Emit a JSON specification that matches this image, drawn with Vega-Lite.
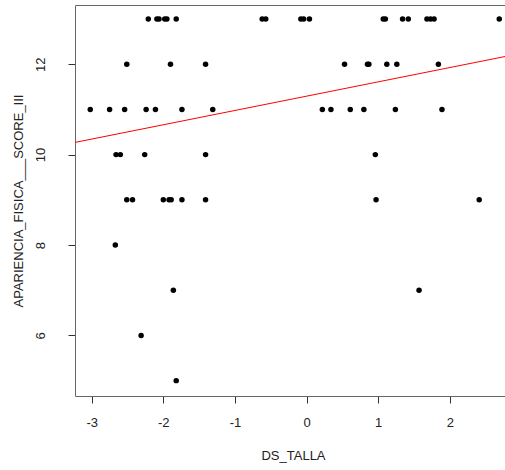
{
  "$schema": "https://vega.github.io/schema/vega-lite/v6.json",
  "width": 430,
  "height": 391,
  "autosize": {"type": "none"},
  "padding": {"left": 75, "top": 5, "right": 0, "bottom": 74},
  "background": "white",
  "config": {
    "view": {"stroke": null},
    "font": "Liberation Sans",
    "axis": {
      "grid": false,
      "domainColor": "#666666",
      "domainWidth": 1,
      "tickColor": "#333333",
      "tickSize": 7,
      "labelFont": "Liberation Sans",
      "labelFontSize": 13,
      "labelColor": "#222222",
      "titleFont": "Liberation Sans",
      "titleFontSize": 13,
      "titleFontWeight": "normal",
      "titleColor": "#222222"
    }
  },
  "layer": [
    {
      "data": {
        "values": [
          {"x": -2.21, "y": 13}, {"x": -2.09, "y": 13}, {"x": -2.06, "y": 13}, {"x": -1.98, "y": 13},
          {"x": -1.95, "y": 13}, {"x": -1.82, "y": 13}, {"x": -0.62, "y": 13}, {"x": -0.57, "y": 13},
          {"x": -0.08, "y": 13}, {"x": -0.04, "y": 13}, {"x": 0.04, "y": 13}, {"x": 1.07, "y": 13},
          {"x": 1.1, "y": 13}, {"x": 1.34, "y": 13}, {"x": 1.42, "y": 13}, {"x": 1.68, "y": 13},
          {"x": 1.73, "y": 13}, {"x": 1.78, "y": 13}, {"x": 2.69, "y": 13},
          {"x": -2.51, "y": 12}, {"x": -1.9, "y": 12}, {"x": -1.41, "y": 12}, {"x": 0.53, "y": 12},
          {"x": 0.85, "y": 12}, {"x": 0.87, "y": 12}, {"x": 1.12, "y": 12}, {"x": 1.26, "y": 12},
          {"x": 1.84, "y": 12},
          {"x": -3.02, "y": 11}, {"x": -2.75, "y": 11}, {"x": -2.54, "y": 11}, {"x": -2.24, "y": 11},
          {"x": -2.11, "y": 11}, {"x": -1.74, "y": 11}, {"x": -1.31, "y": 11}, {"x": 0.22, "y": 11},
          {"x": 0.34, "y": 11}, {"x": 0.61, "y": 11}, {"x": 0.8, "y": 11}, {"x": 1.24, "y": 11},
          {"x": 1.89, "y": 11},
          {"x": -2.66, "y": 10}, {"x": -2.6, "y": 10}, {"x": -2.26, "y": 10}, {"x": -1.41, "y": 10},
          {"x": 0.96, "y": 10},
          {"x": -2.51, "y": 9}, {"x": -2.43, "y": 9}, {"x": -2.0, "y": 9}, {"x": -1.92, "y": 9},
          {"x": -1.89, "y": 9}, {"x": -1.74, "y": 9}, {"x": -1.41, "y": 9}, {"x": 0.97, "y": 9},
          {"x": 2.41, "y": 9},
          {"x": -2.67, "y": 8},
          {"x": -1.86, "y": 7}, {"x": 1.57, "y": 7},
          {"x": -2.31, "y": 6},
          {"x": -1.82, "y": 5}
        ]
      },
      "mark": {"type": "circle", "color": "black", "size": 30, "opacity": 1},
      "encoding": {
        "x": {
          "field": "x",
          "type": "quantitative",
          "scale": {"domain": [-3.233, 2.77], "nice": false, "zero": false},
          "axis": {
            "orient": "bottom",
            "values": [-3, -2, -1, 0, 1, 2],
            "labelExpr": "'' + datum.value",
            "domain": true,
            "labelPadding": 13,
            "title": "DS_TALLA",
            "titleX": 218,
            "titleY": 63,
            "titleAlign": "center",
            "titleBaseline": "alphabetic"
          }
        },
        "y": {
          "field": "y",
          "type": "quantitative",
          "scale": {"domain": [4.66, 13.31], "nice": false, "zero": false},
          "axis": {
            "orient": "left",
            "values": [6, 8, 10, 12],
            "domain": true,
            "labelAngle": -90,
            "labelAlign": "center",
            "labelBaseline": "alphabetic",
            "labelPadding": 24,
            "title": "APARIENCIA_FISICA___SCORE_III",
            "titleAngle": -90,
            "titleX": -53,
            "titleY": 195.5,
            "titleAlign": "center",
            "titleBaseline": "alphabetic"
          }
        }
      }
    },
    {
      "data": {"values": [{"x": -3.233, "y": 10.27}, {"x": 2.77, "y": 12.17}]},
      "mark": {"type": "line", "color": "red", "strokeWidth": 1, "clip": true},
      "encoding": {
        "x": {
          "field": "x",
          "type": "quantitative",
          "axis": {"orient": "top", "labels": false, "ticks": false, "domain": true, "title": null}
        },
        "y": {"field": "y", "type": "quantitative"}
      }
    }
  ],
  "resolve": {"axis": {"x": "independent"}}
}
